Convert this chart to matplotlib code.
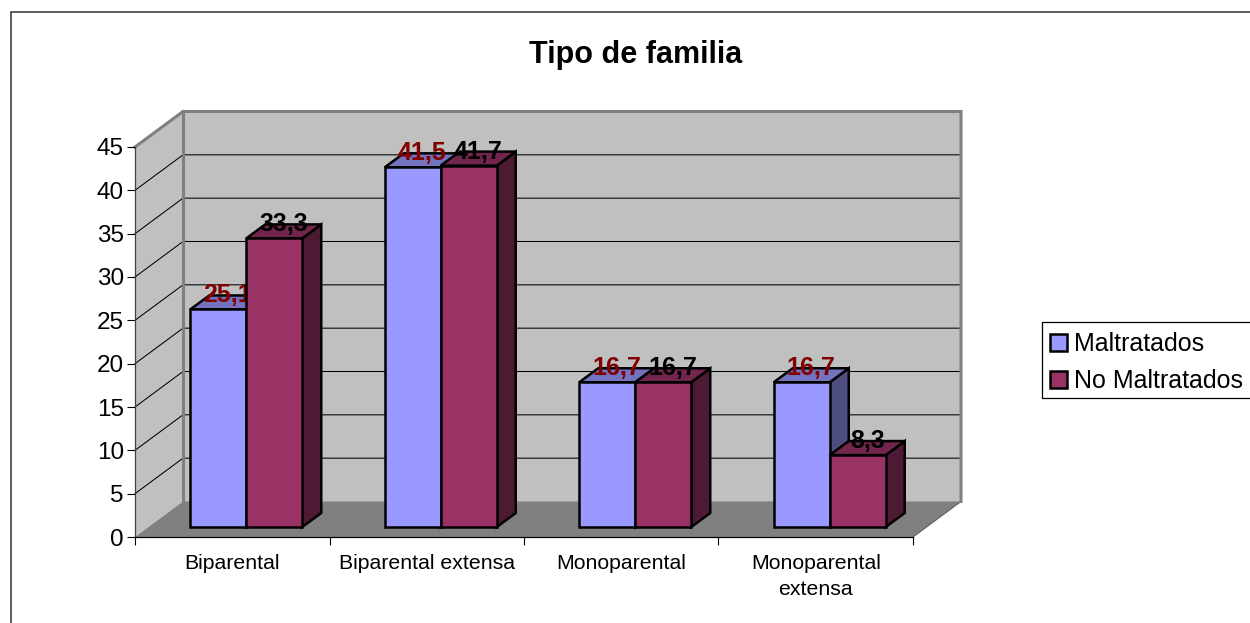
import matplotlib
matplotlib.use("Agg")
import matplotlib.pyplot as plt
from matplotlib.patches import Patch, Polygon, Rectangle

categories = ["Biparental", "Biparental extensa", "Monoparental", "Monoparental\nextensa"]
maltratados = [25.1, 41.5, 16.7, 16.7]
no_maltratados = [33.3, 41.7, 16.7, 8.3]
y_ticks = [0, 5, 10, 15, 20, 25, 30, 35, 40, 45]

W, H = 1250, 623
plt.rcParams["font.family"] = ["Liberation Sans", "DejaVu Sans"]
fig = plt.figure(figsize=(W / 100, H / 100), dpi=100, facecolor="white")

L, R, T, B = 135, 913, 147, 537
ax = fig.add_axes([L / W, (H - B) / H, (R - L) / W, (B - T) / H])
ax.set_xlim(0, len(categories))
ax.set_ylim(0, 45)
ax.patch.set_visible(False)
sx = len(categories) / (R - L)
sy = 45 / (B - T)

DEPTH_X, DEPTH_Y = 48, 35.5
BAR_DX, BAR_DY = 14, 10
BAR_W, BAR_DEPTH_X, BAR_DEPTH_Y = 56, 19, 14
ymax = 45
xmax = len(categories)
EDGE_LW = 1.8


def dx(p):
    return p * sx


def dy(p):
    return p * sy


# walls and floor
bx, by = dx(DEPTH_X), dy(DEPTH_Y)
ax.add_patch(Polygon([(0, 0), (bx, by), (bx, ymax + by), (0, ymax)],
                     fc="#C0C0C0", ec="none", zorder=1, clip_on=False))
ax.add_patch(Polygon([(bx, by), (xmax + bx, by), (xmax + bx, ymax + by), (bx, ymax + by)],
                     fc="#C0C0C0", ec="none", zorder=1, clip_on=False))
ax.add_patch(Polygon([(0, 0), (bx, by), (xmax + bx, by), (xmax, 0)],
                     fc="#808080", ec="none", zorder=1.1, clip_on=False))
ax.plot([xmax + bx, xmax], [by, 0], color="#606060", lw=0.8, zorder=1.2, clip_on=False)

# gridlines
for v in y_ticks[1:-1]:
    ax.plot([0, bx, xmax + bx], [v, v + by, v + by], color="black", lw=0.75,
            zorder=1.3, clip_on=False, solid_joinstyle="miter")

# wall outlines
ax.plot([0, bx, xmax + bx, xmax + bx], [ymax, ymax + by, ymax + by, by], color="#808080",
        lw=2.2, zorder=1.4, clip_on=False, solid_joinstyle="miter")
ax.plot([bx, bx], [by, ymax + by], color="#808080", lw=2.2, zorder=1.4, clip_on=False)


def bar3d(x_left, value, face, top, side, z):
    w = dx(BAR_W)
    b = dy(BAR_DY)
    ox, oy = dx(BAR_DEPTH_X), dy(BAR_DEPTH_Y)
    edge = dict(ec="black", lw=EDGE_LW, clip_on=False, joinstyle="miter", zorder=z)
    ax.add_patch(Polygon([(x_left + w, b), (x_left + w + ox, b + oy),
                          (x_left + w + ox, b + value + oy), (x_left + w, b + value)],
                         fc=side, **edge))
    ax.add_patch(Polygon([(x_left, b + value), (x_left + ox, b + value + oy),
                          (x_left + w + ox, b + value + oy), (x_left + w, b + value)],
                         fc=top, **edge))
    ax.bar(x_left, value, width=w, bottom=b, align="edge", color=face, edgecolor="black",
           linewidth=EDGE_LW, zorder=z, clip_on=False)


def bar_label(x_left, value, color, z):
    ax.text(x_left + dx(BAR_W + BAR_DEPTH_X) / 2, value + dy(BAR_DY + BAR_DEPTH_Y),
            f"{value:.1f}".replace(".", ","), color=color, fontsize=18, fontweight="bold",
            ha="center", va="center", zorder=z, clip_on=False)


for i, (a, b_) in enumerate(zip(maltratados, no_maltratados)):
    cx = i + 0.5 + dx(BAR_DX)
    z0 = 3 + i * 0.1
    bar3d(cx - dx(BAR_W), a, "#9999FF", "#7373BF", "#4D4D80", z0)
    bar_label(cx - dx(BAR_W), a, "#800000", z0 + 0.01)
    bar3d(cx, b_, "#993366", "#73264D", "#4D1A33", z0 + 0.02)
    bar_label(cx, b_, "black", z0 + 0.03)

# axes
for s in ("top", "right"):
    ax.spines[s].set_visible(False)
ax.spines["left"].set_color("#404040")
ax.spines["left"].set_linewidth(0.9)
ax.spines["bottom"].set_color("black")
ax.spines["bottom"].set_linewidth(0.9)
ax.spines["left"].set_zorder(2)
ax.spines["bottom"].set_zorder(2)
ax.set_yticks(y_ticks)
ax.tick_params(axis="y", labelsize=17.5, length=6, width=0.8, pad=2)
ax.set_xticks(range(len(categories) + 1))
ax.set_xticklabels([])
ax.set_xticks([i + 0.5 for i in range(len(categories))], minor=True)
ax.set_xticklabels(categories, minor=True, fontsize=15.3, linespacing=1.45, va="top")
ax.tick_params(axis="x", which="major", length=6, width=0.8)
ax.tick_params(axis="x", which="minor", length=0, pad=12.5)

# title
fig.text(636 / W, 1 - 55 / H, "Tipo de familia", fontsize=22, fontweight="bold",
         ha="center", va="center")

# legend: frame drawn separately so that it spans the exact box
fig.add_artist(Rectangle((1042 / W, 1 - 398 / H), 240 / W, 76 / H, transform=fig.transFigure,
                         fc="white", ec="black", lw=0.9, zorder=1))
handles = [Patch(fc="#9999FF", ec="black", lw=1.8, label="Maltratados"),
           Patch(fc="#993366", ec="black", lw=1.8, label="No Maltratados")]
leg = fig.legend(handles=handles, loc="upper left", mode="expand",
                 bbox_to_anchor=(1042 / W, 1 - 400 / H, 240 / W, 76 / H),
                 fontsize=18, frameon=False, borderaxespad=0, borderpad=0.32,
                 handlelength=0.68, handleheight=0.68, handletextpad=0.26, labelspacing=0.54)
leg.set_zorder(2)

# outer chart border
fig.add_artist(Rectangle((11 / W, -0.1), 1.2, 1.1 - 12 / H, transform=fig.transFigure,
                         fc="none", ec="#303030", lw=1.1, zorder=0))

fig.savefig("out.png", dpi=100)
